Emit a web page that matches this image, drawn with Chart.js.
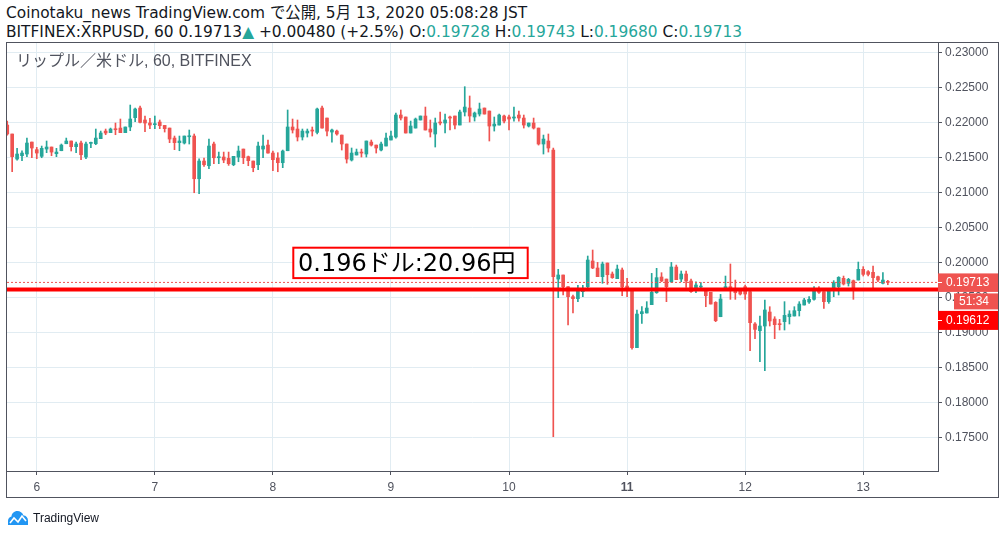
<!DOCTYPE html>
<html>
<head>
<meta charset="utf-8">
<script src="https://cdn.jsdelivr.net/npm/chart.js@4.4.1/dist/chart.umd.min.js"></script>
<style>
  html, body { margin: 0; padding: 0; background: #fff; }
  body { width: 1002px; height: 537px; position: relative; overflow: hidden;
         font-family: "Liberation Sans", Arial, "Noto Sans CJK JP", sans-serif; color: #131722; }
  .hdr { position: absolute; left: 6px; font-size: 15.4px; line-height: 18px; white-space: nowrap;
         font-family: "DejaVu Sans", "Noto Sans CJK JP", sans-serif; }
  #l1 { top: 4px; }
  #l2 { top: 23px; }
  .up { color: #26a69a; }
  #frame { position: absolute; left: 6px; top: 42px; width: 993px; height: 456px;
           border: 1px solid #50535e; box-sizing: border-box; }
  #chart { position: absolute; left: 0; top: 0; }
  #sym { position: absolute; left: 16px; top: 52px; font-size: 16px; line-height: 18px;
         color: #50535e; white-space: nowrap; }
  #logo { position: absolute; left: 7px; top: 509px; height: 18px; display: flex; align-items: center; }
  #logo span { font-size: 12px; margin-left: 4px; color: #131722; }
</style>
</head>
<body>
<div class="hdr" id="l1">Coinotaku_news TradingView.com で公開, 5月 13, 2020 05:08:28 JST</div>
<div class="hdr" id="l2">BITFINEX:XRPUSD, 60 0.19713<span class="up">▲</span> +0.00480 (+2.5%) O:<span class="up">0.19728</span> H:<span class="up">0.19743</span> L:<span class="up">0.19680</span> C:<span class="up">0.19713</span></div>
<div id="frame"></div>
<canvas id="chart" width="1002" height="537"></canvas>
<div id="sym">リップル／米ドル, 60, BITFINEX</div>
<div id="logo">
  <svg width="22" height="16" viewBox="0 0 22 16">
    <path d="M1 15 H21 V10.5 C21 7.5 19 5.5 16.5 5.5 C15.5 2.5 13 1 10.5 1 C7 1 4.5 3.5 4.5 6.5 C2.5 7 1 8.6 1 10.8 Z" fill="#2196f3"/>
    <polyline points="3,13 7,8 11,12 15,6 19,11" fill="none" stroke="#fff" stroke-width="1.6"/>
  </svg>
  <span>TradingView</span>
</div>
<script>
// hourly candles, hours counted from 5月5日 00:00 (first candle = 18:00)
const firstHour = 18;

const opens = [
  0.21961, 0.21833, 0.21475, 0.21523, 0.21547, 0.21718, 0.21609, 0.21514, 0.21618, 0.21647,
  0.21552, 0.21594, 0.21694, 0.21733, 0.21652, 0.21704, 0.21504, 0.21699, 0.21694, 0.21766,
  0.21875, 0.21852, 0.21904, 0.21918, 0.21852, 0.21933, 0.22066, 0.22204, 0.22033, 0.21990,
  0.21966, 0.22004, 0.21956, 0.21918, 0.21775, 0.21709, 0.21704, 0.21794, 0.21804, 0.21194,
  0.21447, 0.21380, 0.21690, 0.21494, 0.21504, 0.21485, 0.21394, 0.21504, 0.21618, 0.21509,
  0.21447, 0.21394, 0.21618, 0.21675, 0.21561, 0.21490, 0.21423, 0.21594, 0.21933, 0.21904,
  0.21790, 0.21847, 0.21890, 0.21856, 0.22204, 0.22061, 0.21861, 0.21875, 0.21818, 0.21690,
  0.21461, 0.21533, 0.21575, 0.21547, 0.21718, 0.21675, 0.21604, 0.21661, 0.21747, 0.21790,
  0.22104, 0.22076, 0.21847, 0.21918, 0.22033, 0.22090, 0.21904, 0.21833, 0.22004, 0.21990,
  0.22076, 0.22090, 0.21961, 0.22147, 0.22204, 0.22076, 0.22118, 0.22204, 0.22161, 0.21947,
  0.21961, 0.22090, 0.22076, 0.22061, 0.22104, 0.22061, 0.21947, 0.21990, 0.21918, 0.21690,
  0.21733, 0.21604, 0.19761, 0.19819, 0.19652, 0.19509, 0.19481, 0.19581, 0.19652, 0.20019,
  0.19919, 0.19795, 0.19990, 0.19833, 0.19766, 0.19890, 0.19661, 0.19628, 0.18781, 0.19266,
  0.19276, 0.19395, 0.19566, 0.19790, 0.19761, 0.19723, 0.19933, 0.19761, 0.19833, 0.19733,
  0.19638, 0.19647, 0.19628, 0.19571, 0.19428, 0.19223, 0.19595, 0.19652, 0.19628, 0.19604,
  0.19652, 0.19581, 0.19119, 0.19023, 0.19090, 0.19290, 0.19190, 0.19119, 0.19152, 0.19223,
  0.19233, 0.19309, 0.19390, 0.19433, 0.19471, 0.19628, 0.19581, 0.19438, 0.19595, 0.19652,
  0.19771, 0.19700, 0.19738, 0.19747, 0.19900, 0.19866, 0.19857, 0.19795, 0.19700, 0.19728
];
const highs = [
  0.22018, 0.21833, 0.21628, 0.21594, 0.21775, 0.21718, 0.21642, 0.21661, 0.21733, 0.21647,
  0.21628, 0.21690, 0.21775, 0.21733, 0.21718, 0.21733, 0.21718, 0.21718, 0.21904, 0.21875,
  0.21904, 0.21918, 0.21990, 0.22047, 0.21933, 0.22247, 0.22204, 0.22233, 0.22090, 0.22057,
  0.22090, 0.22033, 0.21956, 0.21918, 0.21804, 0.21804, 0.21804, 0.21890, 0.21833, 0.21480,
  0.21490, 0.21761, 0.21718, 0.21575, 0.21575, 0.21575, 0.21514, 0.21661, 0.21618, 0.21518,
  0.21447, 0.21718, 0.21818, 0.21747, 0.21590, 0.21566, 0.21604, 0.22176, 0.22047, 0.22033,
  0.21904, 0.21904, 0.21933, 0.22204, 0.22233, 0.22061, 0.21904, 0.21890, 0.21818, 0.21690,
  0.21633, 0.21618, 0.21618, 0.21733, 0.21747, 0.21675, 0.21718, 0.21847, 0.21875, 0.22133,
  0.22176, 0.22076, 0.22018, 0.22061, 0.22090, 0.22218, 0.22033, 0.22061, 0.22147, 0.22118,
  0.22090, 0.22090, 0.22176, 0.22509, 0.22376, 0.22147, 0.22275, 0.22204, 0.22161, 0.22076,
  0.22118, 0.22104, 0.22104, 0.22218, 0.22161, 0.22104, 0.21990, 0.22061, 0.21918, 0.21818,
  0.21833, 0.21633, 0.19900, 0.19819, 0.19652, 0.19533, 0.19671, 0.19671, 0.20090, 0.20176,
  0.19999, 0.20004, 0.19990, 0.19862, 0.19961, 0.19919, 0.19771, 0.19628, 0.19319, 0.19366,
  0.19438, 0.19842, 0.19914, 0.19852, 0.19761, 0.19999, 0.19961, 0.19876, 0.19876, 0.19761,
  0.19723, 0.19709, 0.19628, 0.19571, 0.19438, 0.19542, 0.19804, 0.19976, 0.19747, 0.19604,
  0.19676, 0.19604, 0.19138, 0.19233, 0.19461, 0.19366, 0.19223, 0.19185, 0.19438, 0.19309,
  0.19366, 0.19438, 0.19485, 0.19509, 0.19652, 0.19652, 0.19581, 0.19604, 0.19738, 0.19795,
  0.19804, 0.19771, 0.19747, 0.20004, 0.19938, 0.19881, 0.19947, 0.19804, 0.19852, 0.19743
];
const lows = [
  0.21818, 0.21294, 0.21461, 0.21452, 0.21509, 0.21494, 0.21480, 0.21494, 0.21566, 0.21523,
  0.21509, 0.21594, 0.21694, 0.21590, 0.21566, 0.21466, 0.21480, 0.21637, 0.21680, 0.21766,
  0.21823, 0.21852, 0.21823, 0.21852, 0.21852, 0.21880, 0.22009, 0.21990, 0.21866, 0.21909,
  0.21909, 0.21909, 0.21861, 0.21709, 0.21609, 0.21594, 0.21690, 0.21690, 0.20994, 0.20980,
  0.21371, 0.21337, 0.21409, 0.21409, 0.21423, 0.21385, 0.21380, 0.21437, 0.21409, 0.21380,
  0.21294, 0.21323, 0.21494, 0.21561, 0.21309, 0.21294, 0.21352, 0.21594, 0.21847, 0.21733,
  0.21747, 0.21790, 0.21804, 0.21833, 0.21918, 0.21804, 0.21718, 0.21818, 0.21604, 0.21418,
  0.21447, 0.21533, 0.21504, 0.21504, 0.21661, 0.21561, 0.21590, 0.21661, 0.21747, 0.21775,
  0.22033, 0.21847, 0.21847, 0.21918, 0.22033, 0.21890, 0.21790, 0.21647, 0.21961, 0.21847,
  0.21890, 0.21904, 0.21961, 0.22090, 0.22004, 0.22018, 0.22090, 0.22118, 0.21733, 0.21875,
  0.21961, 0.21990, 0.21890, 0.22018, 0.22018, 0.21918, 0.21933, 0.21904, 0.21675, 0.21547,
  0.21575, 0.17510, 0.19495, 0.19533, 0.19104, 0.19276, 0.19438, 0.19509, 0.19628, 0.19909,
  0.19795, 0.19700, 0.19685, 0.19771, 0.19766, 0.19523, 0.19509, 0.18760, 0.18781, 0.19128,
  0.19276, 0.19395, 0.19557, 0.19723, 0.19438, 0.19709, 0.19752, 0.19723, 0.19642, 0.19571,
  0.19566, 0.19628, 0.19366, 0.19404, 0.19152, 0.19223, 0.19595, 0.19471, 0.19471, 0.19533,
  0.19471, 0.18738, 0.18909, 0.18580, 0.18452, 0.19090, 0.18909, 0.19033, 0.19033, 0.19119,
  0.19233, 0.19233, 0.19390, 0.19414, 0.19461, 0.19557, 0.19342, 0.19414, 0.19509, 0.19533,
  0.19676, 0.19661, 0.19471, 0.19747, 0.19804, 0.19804, 0.19628, 0.19723, 0.19690, 0.19680
];
const closes = [
  0.21833, 0.21509, 0.21547, 0.21561, 0.21704, 0.21633, 0.21561, 0.21628, 0.21647, 0.21575,
  0.21575, 0.21675, 0.21733, 0.21652, 0.21690, 0.21537, 0.21690, 0.21709, 0.21775, 0.21847,
  0.21847, 0.21904, 0.21894, 0.21852, 0.21933, 0.22047, 0.22190, 0.21999, 0.21990, 0.21961,
  0.21975, 0.21952, 0.21909, 0.21761, 0.21709, 0.21733, 0.21804, 0.21804, 0.21194, 0.21447,
  0.21394, 0.21661, 0.21494, 0.21504, 0.21461, 0.21409, 0.21514, 0.21590, 0.21494, 0.21452,
  0.21352, 0.21661, 0.21661, 0.21561, 0.21466, 0.21423, 0.21590, 0.21933, 0.21890, 0.21790,
  0.21875, 0.21875, 0.21875, 0.22190, 0.21918, 0.21875, 0.21890, 0.21833, 0.21690, 0.21475,
  0.21561, 0.21575, 0.21561, 0.21733, 0.21675, 0.21633, 0.21690, 0.21775, 0.21804, 0.22104,
  0.22061, 0.21847, 0.21947, 0.22047, 0.22090, 0.21890, 0.21861, 0.21990, 0.21990, 0.22033,
  0.22061, 0.21961, 0.22147, 0.22218, 0.22090, 0.22133, 0.22190, 0.22118, 0.21947, 0.21975,
  0.22104, 0.22018, 0.22047, 0.22076, 0.22061, 0.21961, 0.21990, 0.21918, 0.21690, 0.21761,
  0.21633, 0.19794, 0.19819, 0.19652, 0.19509, 0.19481, 0.19595, 0.19628, 0.20033, 0.19919,
  0.19795, 0.19976, 0.19823, 0.19781, 0.19904, 0.19652, 0.19628, 0.18781, 0.19261, 0.19295,
  0.19347, 0.19571, 0.19781, 0.19733, 0.19652, 0.19933, 0.19752, 0.19833, 0.19733, 0.19581,
  0.19676, 0.19661, 0.19523, 0.19404, 0.19166, 0.19476, 0.19652, 0.19628, 0.19566, 0.19547,
  0.19547, 0.19138, 0.19042, 0.19090, 0.19319, 0.19162, 0.19109, 0.19109, 0.19242, 0.19261,
  0.19309, 0.19404, 0.19461, 0.19471, 0.19595, 0.19571, 0.19438, 0.19595, 0.19709, 0.19785,
  0.19690, 0.19757, 0.19628, 0.19900, 0.19828, 0.19828, 0.19781, 0.19747, 0.19747, 0.19713
];

const dayTicks = [24, 48, 72, 96, 120, 144, 168, 192];
const dayLabels = ['6', '7', '8', '9', '10', '11', '12', '13'];
const priceTicks = [0.175, 0.18, 0.185, 0.19, 0.195, 0.2, 0.205, 0.21, 0.215, 0.22, 0.225, 0.23];

const lastPrice = 0.19713;
const markPrice = 0.19612;   // 赤いライン
const countdown = '51:34';
const noteText = '0.196ドル:20.96円';

const UP = '#26a69a';
const DOWN = '#ef5350';
const GRID = '#e1ecf2';
const AXIS = '#50535e';
const FONT = '"Liberation Sans", Arial, sans-serif';

const xMin = 17.95, xMax = 207.2;
const yMin = 0.17019, yMax = 0.23133;

const colors = opens.map((o, i) => closes[i] >= o ? UP : DOWN);
const bodies = opens.map((o, i) => ({ x: firstHour + i, y: [o, closes[i]] }));
const wicks = opens.map((o, i) => ({ x: firstHour + i, y: [lows[i], highs[i]] }));

const overlay = {
  id: 'overlay',
  afterDraw(chart) {
    const ctx = chart.ctx;
    const y = chart.scales.y;
    const left = chart.chartArea.right;
    ctx.save();

    // note box
    ctx.fillStyle = '#fff';
    ctx.fillRect(293, 247.5, 235, 31);
    ctx.strokeStyle = '#ff0000';
    ctx.lineWidth = 2;
    ctx.strokeRect(293.3, 247.7, 234.4, 30.4);
    ctx.fillStyle = '#000';
    ctx.font = '24px "DejaVu Sans", "Noto Sans CJK JP", sans-serif';
    ctx.textBaseline = 'alphabetic';
    ctx.fillText(noteText, 298, 270.5);

    // price labels on the right axis
    const yc = y.getPixelForValue(lastPrice);
    ctx.font = '12px ' + FONT;
    ctx.textBaseline = 'middle';

    ctx.fillStyle = DOWN;
    ctx.fillRect(left, yc - 9, 60, 18.5);
    ctx.fillRect(left + 16, yc + 11, 44, 16);
    ctx.fillStyle = '#ff0000';
    ctx.fillRect(left, yc + 28.5, 60, 19);

    ctx.strokeStyle = '#fff';
    ctx.lineWidth = 1;
    ctx.beginPath();
    ctx.moveTo(left, Math.round(yc) + 0.5); ctx.lineTo(left + 4, Math.round(yc) + 0.5);
    ctx.moveTo(left, Math.round(yc + 38) + 0.5); ctx.lineTo(left + 4, Math.round(yc + 38) + 0.5);
    ctx.stroke();

    ctx.fillStyle = '#fff';
    ctx.fillText(lastPrice.toFixed(5), left + 8, yc + 0.5);
    ctx.fillText(countdown, left + 21, yc + 19.5);
    ctx.fillText(markPrice.toFixed(5), left + 8, yc + 38.5);
    ctx.restore();
  }
};

new Chart(document.getElementById('chart'), {
  type: 'bar',
  data: {
    datasets: [
      {
        type: 'line',
        data: [{ x: xMin, y: markPrice }, { x: xMax, y: markPrice }],
        borderColor: '#ff0000', borderWidth: 4, pointRadius: 0
      },
      {
        type: 'line',
        data: [{ x: xMin, y: lastPrice }, { x: xMax, y: lastPrice }],
        borderColor: DOWN, borderWidth: 1, borderDash: [2, 2], pointRadius: 0
      },
      {
        data: bodies, backgroundColor: colors, borderWidth: 0,
        barThickness: 3, minBarLength: 1, grouped: false
      },
      {
        data: wicks, backgroundColor: colors, borderWidth: 0,
        barThickness: 1, grouped: false
      }
    ]
  },
  options: {
    responsive: false,
    animation: false,
    layout: { padding: { left: 7, top: 43, right: 4, bottom: 40 } },
    plugins: { legend: { display: false }, tooltip: { enabled: false } },
    scales: {
      x: {
        type: 'linear', min: xMin, max: xMax, offset: false,
        afterBuildTicks: s => { s.ticks = dayTicks.map(v => ({ value: v })); },
        afterFit: s => { s.height = 26; },
        grid: { color: GRID, tickColor: AXIS, tickLength: 4, offset: false },
        border: { color: AXIS },
        ticks: {
          maxRotation: 0, autoSkip: false, padding: 5, color: AXIS,
          font: c => ({ family: FONT, size: 12, weight: c.tick && c.tick.value === 144 ? 'bold' : 'normal' }),
          callback: v => dayLabels[dayTicks.indexOf(v)] ?? ''
        }
      },
      y: {
        position: 'right', min: yMin, max: yMax,
        afterBuildTicks: s => { s.ticks = priceTicks.map(v => ({ value: v })); },
        afterFit: s => { s.width = 60; },
        grid: { color: GRID, tickColor: AXIS, tickLength: 4 },
        border: { color: AXIS },
        ticks: {
          padding: 3, color: AXIS, font: { family: FONT, size: 12 },
          callback: v => v.toFixed(5)
        }
      }
    }
  },
  plugins: [overlay]
});
</script>
</body>
</html>
